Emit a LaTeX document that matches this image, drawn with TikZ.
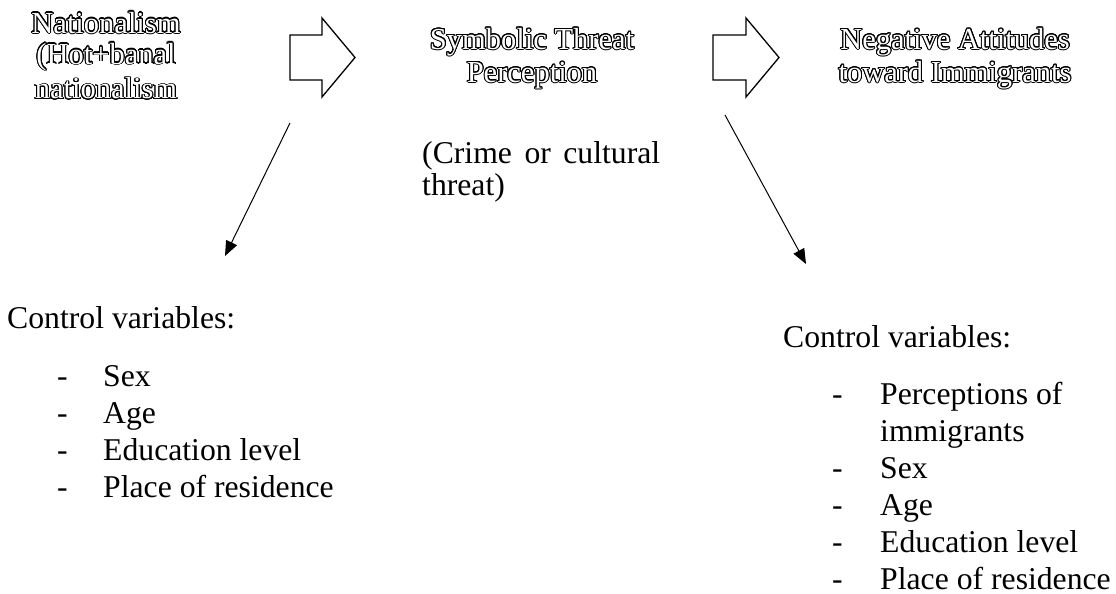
\documentclass[tikz,border=0pt]{standalone}
\usepackage{fontspec}
\setmainfont{Liberation Serif}
\usepackage{contour}
\contourlength{1pt}
\contournumber{24}
\usetikzlibrary{arrows.meta}
\newcommand{\outl}[1]{{\color{white}\contour{black}{#1}}}
\tikzset{
  title/.style={font=\fontsize{30.5}{33}\selectfont, align=center, inner sep=0pt, anchor=base},
  body/.style={font=\fontsize{31.7}{37}\selectfont, align=left, inner sep=0pt, anchor=base west},
  blockarrow/.style={draw=black, line width=1.3pt, fill=white, line join=miter},
  thin/.style={draw=black, line width=1pt, -{Triangle[length=15pt,width=12pt]}}
}
\begin{document}
\begin{tikzpicture}[x=1pt,y=-1pt]
\useasboundingbox (0,0) rectangle (1116,594);
% titles (anchor base = baseline of last line)
\node[title] (nat) at (106,99) {\outl{Nationalism}\\[-2pt]\outl{(Hot+banal}\\[2pt]\outl{nationalism}};
\node[title] (sym) at (532,82) {\outl{Symbolic Threat}\\\outl{Perception}};
\node[title] (neg) at (955,82) {\outl{Negative Attitudes}\\\outl{toward Immigrants}};
% block arrows
\draw[blockarrow] (290,35) -- (322,35) -- (322,18) -- (355,57.5) -- (322,97) -- (322,80) -- (290,80) -- cycle;
\draw[blockarrow] (713,35) -- (746,35) -- (746,18) -- (779,57.5) -- (746,97) -- (746,80) -- (713,80) -- cycle;
% subtitle
\node[body, font=\fontsize{31.7}{32}\selectfont] (crime) at (422,195) {\hbox to 238pt{(Crime\hfill or\hfill cultural}\\threat)};
% thin arrows
\coordinate (a1s) at (290,123);
\coordinate (a1e) at (225,256);
\coordinate (a2s) at (725,115);
\coordinate (a2e) at (806,264);
\draw[thin] (a1s) -- (a1e);
\draw[thin] (a2s) -- (a2e);
% left control variables
\node[body] (lcv) at (7,328) {Control variables:};
\node[body] (llist) at (57,497) {\makebox[46pt][l]{-}Sex\\\makebox[46pt][l]{-}Age\\\makebox[46pt][l]{-}Education level\\\makebox[46pt][l]{-}Place of residence};
% right control variables
\node[body] (rcv) at (783,347) {Control variables:};
\node[body] (rlist) at (832,589) {\makebox[48pt][l]{-}Perceptions of\\\makebox[48pt][l]{}immigrants\\\makebox[48pt][l]{-}Sex\\\makebox[48pt][l]{-}Age\\\makebox[48pt][l]{-}Education level\\\makebox[48pt][l]{-}Place of residence};
\end{tikzpicture}
\end{document}
